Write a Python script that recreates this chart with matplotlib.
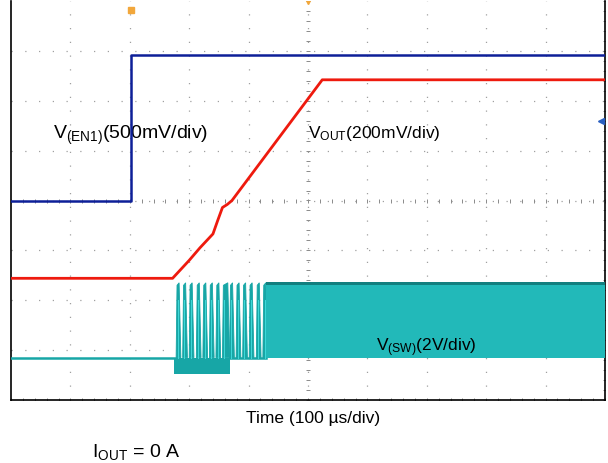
import numpy as np
import matplotlib
matplotlib.use("Agg")
import matplotlib.pyplot as plt

plt.rcParams['font.family'] = ['Liberation Sans', 'DejaVu Sans']
plt.rcParams['mathtext.fontset'] = 'custom'
plt.rcParams['mathtext.rm'] = 'Liberation Sans'

########## TRACES (time in us, level in divisions)
en1_t = [0, 202, 202, 1000]
en1_v = [0.0, 0.0, 2.91, 2.91]

vout_t = [0, 272, 300, 318, 340, 348, 356, 364, 372, 524, 1000]
vout_v = [-1.56, -1.56, -1.20, -0.95, -0.67, -0.40, -0.14, -0.08, 0.0, 2.42, 2.42]

sw_base = -3.15
sw_top = -1.70
sw_low = -3.47
sw_pulses = [279, 290, 301, 313, 324, 335, 346, 357, 369, 380, 391, 402, 414, 425]
sw_pulse_w = [7, 7, 7, 7, 7, 7, 7, 11, 7, 7, 7, 7, 7, 7]
sw_ring = (274, 369)      # region dipping below baseline
sw_dense = (430, 1000)    # pulses merge into a solid band

blue = '#0d1f98'
red = '#ee1a0e'
teal = '#17a6a6'
cyan = '#3fdada'

fig = plt.figure(figsize=(6.08, 4.63), dpi=100)
ax = fig.add_axes([11/608, 1 - 400/463, 594/608, 399/463])
ax.set_xlim(0, 1000)
ax.set_ylim(-4, 4)

# scope graticule
for gx in range(100, 1000, 100):
    ax.axvline(gx, color='#a0a0a0', lw=0.9, ls=(0, (1, 10)), zorder=1)
for gy in range(-3, 4):
    ax.axhline(gy, color='#a0a0a0', lw=0.9, ls=(0, (1, 10)), zorder=1)
mx = np.arange(0, 1001, 20)
my = np.arange(-4, 4.01, 0.2)
tick = dict(color='#8a8a8a', ms=3, mew=0.7, zorder=1, ls='none')
ax.plot(mx, np.zeros_like(mx), '|', **tick)
ax.plot(np.full_like(my, 500), my, '_', **tick)
ax.plot(mx, np.full_like(mx, -4.0), '|', **tick)
ax.plot(np.full_like(my, 1000), my, '_', **tick)

# SW node
ax.plot([0, sw_pulses[0] - 2], [sw_base, sw_base], color=teal, lw=1.8, zorder=3)
ax.fill_between(sw_ring, sw_low, sw_base, color=teal, lw=0, zorder=3)
for t0, w in zip(sw_pulses, sw_pulse_w):
    xs = [t0 - 1, t0 + 0.5, t0 + w - 3, t0 + w]
    ys = [sw_base, sw_top, sw_top + 0.05, sw_base]
    ax.fill(xs, ys, color=teal, lw=0.6, zorder=3)
    ax.plot([t0 + 2, t0 + 2], [sw_base, sw_top - 0.3], color=cyan, lw=0.7, zorder=4)
ax.plot([sw_ring[1], sw_dense[0]], [sw_base, sw_base], color=teal, lw=1.8, zorder=3)
ax.fill_between(sw_dense, sw_base, sw_top, color='#22b9b9', lw=0, zorder=3)
ax.fill_between(sw_dense, sw_top + 0.07, sw_top, color='#127f7f', lw=0, zorder=4)

# EN1 and VOUT
ax.plot(en1_t, en1_v, color=blue, lw=1.8, zorder=5)
ax.plot(vout_t, vout_v, color=red, lw=2.0, zorder=5)

# markers
ax.plot([202], [3.82], marker='s', color='#f2a73b', ms=5, zorder=6)
ax.plot([500], [3.97], marker='v', color='#f2a73b', ms=3, zorder=6)
ax.plot([994], [1.6], marker='<', color='#2a5fc0', ms=4, zorder=6)

for s in ['left', 'right', 'bottom']:
    ax.spines[s].set_linewidth(1.2)
ax.spines['top'].set_visible(False)
ax.set_xticks([])
ax.set_yticks([])

ax.text(70, 1.3, r'$\mathregular{V_{(EN1)}(500mV/div)}$', fontsize=14, va='center')
ax.text(500, 1.35, r'$\mathregular{V_{OUT}(200mV/div)}$', fontsize=12.5, va='center')
ax.text(615, -2.95, r'$\mathregular{V_{(SW)}(2V/div)}$', fontsize=12.5, va='center')

fig.text(313/608, 1 - 418/463, 'Time (100 µs/div)', fontsize=12.5, ha='center', va='center')
fig.text(92/608, 1 - 452/463, r'$\mathregular{I_{OUT}}$ = 0 A', fontsize=14, ha='left', va='center')

fig.savefig('out.png', dpi=100)
